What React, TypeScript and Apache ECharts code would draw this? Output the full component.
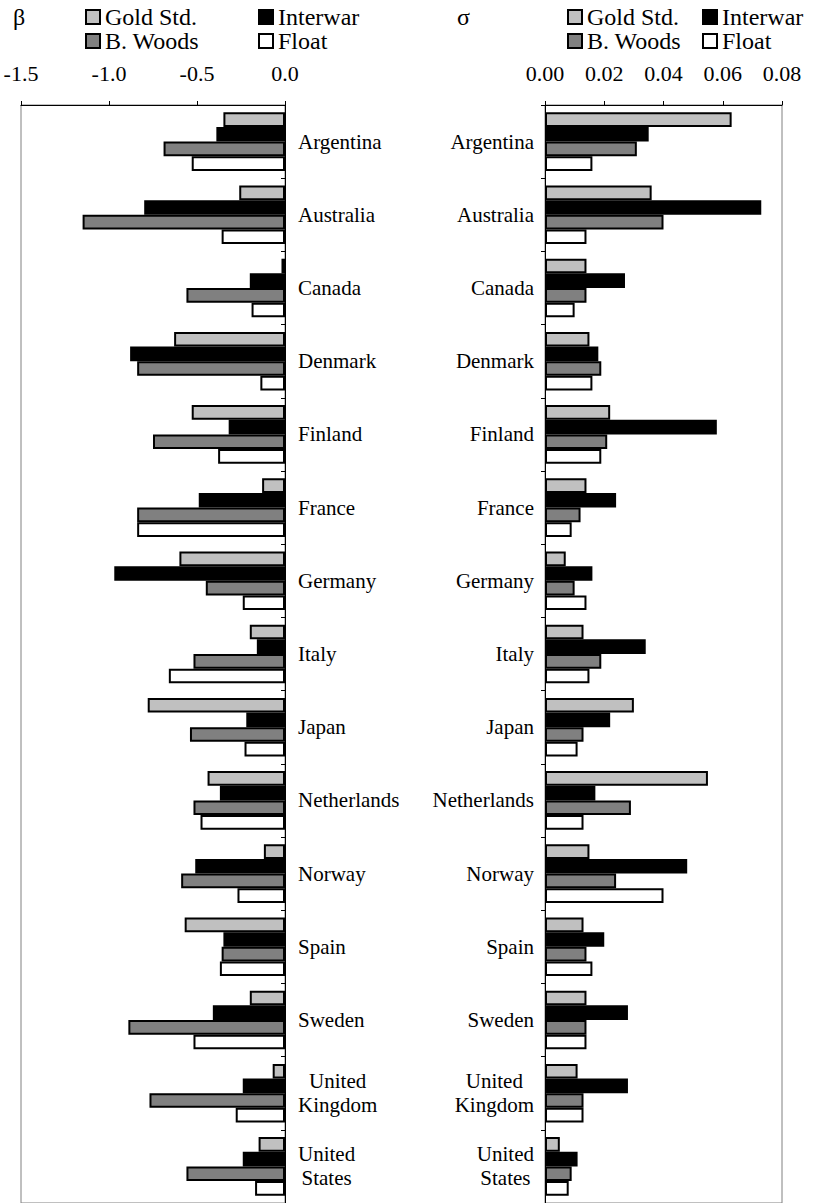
import React, { useEffect, useRef } from "react";
import * as echarts from "echarts";

// Countries (top to bottom)
const categories = [
  "Argentina",
  "Australia",
  "Canada",
  "Denmark",
  "Finland",
  "France",
  "Germany",
  "Italy",
  "Japan",
  "Netherlands",
  "Norway",
  "Spain",
  "Sweden",
  "United\nKingdom",
  "United\nStates",
];

const regimes = ["Gold Std.", "Interwar", "B. Woods", "Float"];
const regimeColors = ["#c0c0c0", "#000000", "#808080", "#ffffff"];

// β estimates by regime
const betaGold = [-0.35, -0.26, -0.02, -0.63, -0.53, -0.13, -0.6, -0.2, -0.78, -0.44, -0.12, -0.57, -0.2, -0.07, -0.15];
const betaInterwar = [-0.39, -0.8, -0.2, -0.88, -0.32, -0.49, -0.97, -0.16, -0.22, -0.37, -0.51, -0.35, -0.41, -0.24, -0.24];
const betaBWoods = [-0.69, -1.15, -0.56, -0.84, -0.75, -0.84, -0.45, -0.52, -0.54, -0.52, -0.59, -0.36, -0.89, -0.77, -0.56];
const betaFloat = [-0.53, -0.36, -0.19, -0.14, -0.38, -0.84, -0.24, -0.66, -0.23, -0.48, -0.27, -0.37, -0.52, -0.28, -0.17];

// σ estimates by regime
const sigmaGold = [0.063, 0.036, 0.014, 0.015, 0.022, 0.014, 0.007, 0.013, 0.03, 0.055, 0.015, 0.013, 0.014, 0.011, 0.005];
const sigmaInterwar = [0.035, 0.073, 0.027, 0.018, 0.058, 0.024, 0.016, 0.034, 0.022, 0.017, 0.048, 0.02, 0.028, 0.028, 0.011];
const sigmaBWoods = [0.031, 0.04, 0.014, 0.019, 0.021, 0.012, 0.01, 0.019, 0.013, 0.029, 0.024, 0.014, 0.014, 0.013, 0.009];
const sigmaFloat = [0.016, 0.014, 0.01, 0.016, 0.019, 0.009, 0.014, 0.015, 0.011, 0.013, 0.04, 0.016, 0.014, 0.013, 0.008];

const betaSeries = [betaGold, betaInterwar, betaBWoods, betaFloat];
const sigmaSeries = [sigmaGold, sigmaInterwar, sigmaBWoods, sigmaFloat];

const FONT = "Liberation Serif";

// Two-line country names: each line centred within the label block
function categoryLabel(value: string) {
  return value
    .split("\n")
    .map((s) => `{c|${s}}`)
    .join("\n");
}

export default function App() {
  const ref = useRef<HTMLDivElement>(null);

  useEffect(() => {
    if (!ref.current) return;
    const chart = echarts.init(ref.current, undefined, { renderer: "svg" });

    const makeBars = (data: number[][], axisIndex: number) =>
      data.map((values, i) => ({
        type: "bar",
        name: regimes[i],
        xAxisIndex: axisIndex,
        yAxisIndex: axisIndex,
        data: values,
        barGap: "0%",
        barCategoryGap: "20%",
        itemStyle: {
          color: regimeColors[i],
          borderColor: "#000",
          borderWidth: 2,
        },
      }));

    // One legend block per entry so the two columns line up
    const legendSpots = [
      // left panel
      { name: "Gold Std.", left: 85, top: 5 },
      { name: "Interwar", left: 258, top: 5 },
      { name: "B. Woods", left: 85, top: 29 },
      { name: "Float", left: 258, top: 29 },
      // right panel
      { name: "Gold Std.", left: 567, top: 5 },
      { name: "Interwar", left: 702, top: 5 },
      { name: "B. Woods", left: 567, top: 29 },
      { name: "Float", left: 702, top: 29 },
    ];

    const categoryAxisLabel = {
      color: "#000",
      fontFamily: FONT,
      fontSize: 21,
      formatter: categoryLabel,
      rich: {
        c: {
          align: "center",
          fontFamily: FONT,
          fontSize: 21,
          lineHeight: 24,
          color: "#000",
        },
      },
    };

    const titleStyle = { fontFamily: FONT, fontSize: 24, fontWeight: "normal", color: "#000", lineHeight: 24 };

    chart.setOption({
      animation: false,
      backgroundColor: "#fff",
      textStyle: { fontFamily: FONT },
      title: [
        { text: "β", left: 13, top: 5, padding: 0, textStyle: titleStyle },
        { text: "σ", left: 457, top: 5, padding: 0, textStyle: titleStyle },
      ],
      legend: legendSpots.map((s) => ({
        data: [s.name],
        left: s.left,
        top: s.top,
        padding: 0,
        icon: "rect",
        itemWidth: 14,
        itemHeight: 14,
        selectedMode: false,
        textStyle: { fontFamily: FONT, fontSize: 24, color: "#000", lineHeight: 24 },
      })),
      grid: [
        {
          left: 21,
          top: 105,
          width: 264,
          height: 1098,
          show: true,
          borderColor: "#808080",
          borderWidth: 1,
          backgroundColor: "transparent",
        },
        {
          left: 545,
          top: 105,
          width: 237,
          height: 1098,
          show: true,
          borderColor: "#808080",
          borderWidth: 1,
          backgroundColor: "transparent",
        },
      ],
      xAxis: [
        {
          type: "value",
          gridIndex: 0,
          position: "top",
          min: -1.5,
          max: 0,
          interval: 0.5,
          splitLine: { show: false },
          axisLine: { show: true, lineStyle: { color: "#000", width: 1 } },
          axisTick: { show: true, length: 4, lineStyle: { color: "#000" } },
          axisLabel: {
            margin: 21,
            color: "#000",
            fontFamily: FONT,
            fontSize: 22,
            formatter: (v: number) => v.toFixed(1),
          },
        },
        {
          type: "value",
          gridIndex: 1,
          position: "top",
          min: 0,
          max: 0.08,
          interval: 0.02,
          splitLine: { show: false },
          axisLine: { show: true, lineStyle: { color: "#000", width: 1 } },
          axisTick: { show: true, length: 4, lineStyle: { color: "#000" } },
          axisLabel: {
            margin: 21,
            color: "#000",
            fontFamily: FONT,
            fontSize: 22,
            formatter: (v: number) => v.toFixed(2),
          },
        },
      ],
      yAxis: [
        {
          type: "category",
          gridIndex: 0,
          data: categories,
          inverse: true,
          position: "right",
          axisLine: { show: true, lineStyle: { color: "#000", width: 1 } },
          axisTick: { show: true, inside: true, length: 4, lineStyle: { color: "#000" } },
          axisLabel: { ...categoryAxisLabel, margin: 13, align: "left" },
        },
        {
          type: "category",
          gridIndex: 1,
          data: categories,
          inverse: true,
          position: "left",
          axisLine: { show: true, lineStyle: { color: "#000", width: 1 } },
          axisTick: { show: true, inside: false, length: 4, lineStyle: { color: "#000" } },
          axisLabel: { ...categoryAxisLabel, margin: 11, align: "right" },
        },
      ],
      series: [...makeBars(betaSeries, 0), ...makeBars(sigmaSeries, 1)],
    });

    return () => chart.dispose();
  }, []);

  return (
    <div
      ref={ref}
      style={{ position: "absolute", left: 0, top: 0, width: 813, height: 1203 }}
    />
  );
}
